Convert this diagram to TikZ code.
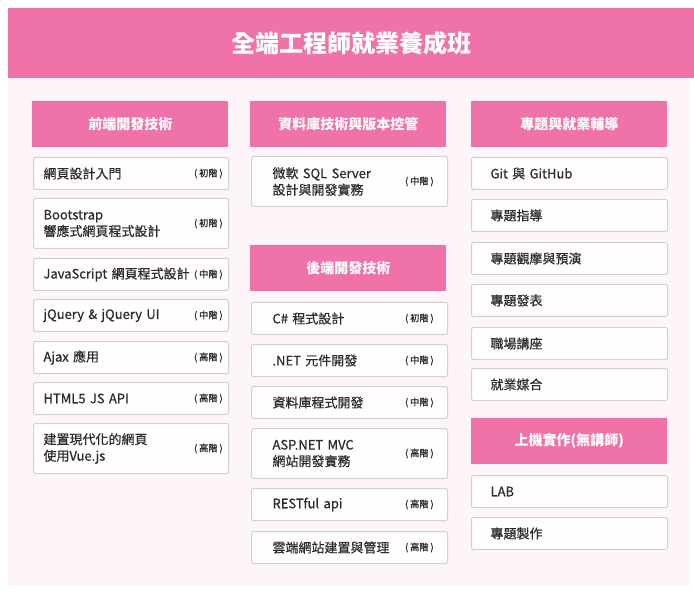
\documentclass[tikz,border=0pt]{standalone}
\usepackage{fontspec}
\setmainfont{Noto Sans CJK TC}
\newfontfamily\itemfont{Noto Sans CJK TC}[FakeBold=0.6]
\newfontfamily\levelfont{Noto Sans CJK TC}[FakeBold=1.2]
\definecolor{barpink}{HTML}{EF72A8}
\definecolor{pagepink}{HTML}{FDF5FA}
\definecolor{boxline}{HTML}{D2D0D1}
\definecolor{boxfill}{HTML}{FFFDFD}
\definecolor{inktext}{HTML}{2B2B2B}
\begin{document}
\begin{tikzpicture}[x=0.75pt, y=-0.75pt,
    titlebar/.style={fill=barpink, text=white, anchor=north west,
        minimum width=514.5pt, minimum height=52.5pt, inner sep=0pt,
        font=\fontsize{18}{20}\selectfont\bfseries},
    header/.style={fill=barpink, text=white, anchor=north west,
        minimum width=147pt, minimum height=34.5pt, inner sep=0pt,
        font=\fontsize{10.5}{12}\selectfont\bfseries},
    item/.style={draw=boxline, line width=0.75pt, fill=boxfill, rounded corners=1.5pt,
        anchor=north west, align=left, text=inktext, inner ysep=0pt,
        font=\itemfont\fontsize{9.75}{12.4}\selectfont},
    lcol/.style={item, inner xsep=7.5pt, text width=131.25pt},
    mcol/.style={item, inner xsep=15.75pt, text width=115.5pt},
    rcol/.style={item, inner xsep=14.25pt, text width=118.5pt},
    one/.style={minimum height=24pt},
    two/.style={minimum height=37.5pt},
    level/.style={anchor=east, inner sep=0pt, text=inktext,
        font=\levelfont\fontsize{6.9}{8}\selectfont}
]
    \useasboundingbox (0,0) rectangle (694,592);

    % 背景與標題
    \fill[pagepink] (8,78) rectangle (690,585);
    \node[titlebar] (title) at (8,8) {全端工程師就業養成班};

    % 左欄：前端開發技術
    \node[header] (front) at (32,101) {前端開發技術};
    \node[lcol, one] (f1) at (33,157) {網頁設計入門};
    \node[lcol, two] (f2) at (33,198) {Bootstrap\\響應式網頁程式設計};
    \node[lcol, one] (f3) at (33,258) {JavaScript 網頁程式設計};
    \node[lcol, one] (f4) at (33,299) {jQuery \& jQuery UI};
    \node[lcol, one] (f5) at (33,341) {Ajax 應用};
    \node[lcol, one] (f6) at (33,382) {HTML5 JS API};
    \node[lcol, two] (f7) at (33,423) {建置現代化的網頁\\使用Vue.js};
    \node[level] (f1l) at ([xshift=-4.5pt]f1.east) {( 初階 )};
    \node[level] (f2l) at ([xshift=-4.5pt]f2.east) {( 初階 )};
    \node[level] (f3l) at ([xshift=-4.5pt]f3.east) {( 中階 )};
    \node[level] (f4l) at ([xshift=-4.5pt]f4.east) {( 中階 )};
    \node[level] (f5l) at ([xshift=-4.5pt]f5.east) {( 高階 )};
    \node[level] (f6l) at ([xshift=-4.5pt]f6.east) {( 高階 )};
    \node[level] (f7l) at ([xshift=-4.5pt]f7.east) {( 高階 )};

    % 中欄：資料庫技術與版本控管、後端開發技術
    \node[header] (data) at (250,101) {資料庫技術與版本控管};
    \node[mcol, two] (d1) at (251,156) {微軟 SQL Server\\設計與開發實務};
    \node[level] (d1l) at ([xshift=-10.5pt]d1.east) {( 中階 )};

    \node[header] (back) at (250,245) {後端開發技術};
    \node[mcol, one] (b1) at (251,302) {C\# 程式設計};
    \node[mcol, one] (b2) at (251,344) {.NET 元件開發};
    \node[mcol, one] (b3) at (251,386) {資料庫程式開發};
    \node[mcol, two] (b4) at (251,428) {ASP.NET MVC\\網站開發實務};
    \node[mcol, one] (b5) at (251,488) {RESTful api};
    \node[mcol, one] (b6) at (251,531) {雲端網站建置與管理};
    \node[level] (b1l) at ([xshift=-10.5pt]b1.east) {( 初階 )};
    \node[level] (b2l) at ([xshift=-10.5pt]b2.east) {( 中階 )};
    \node[level] (b3l) at ([xshift=-10.5pt]b3.east) {( 中階 )};
    \node[level] (b4l) at ([xshift=-10.5pt]b4.east) {( 高階 )};
    \node[level] (b5l) at ([xshift=-10.5pt]b5.east) {( 高階 )};
    \node[level] (b6l) at ([xshift=-10.5pt]b6.east) {( 高階 )};

    % 右欄：專題與就業輔導、上機實作
    \node[header] (proj) at (471,101) {專題與就業輔導};
    \node[rcol, one] (p1) at (471,157) {Git 與 GitHub};
    \node[rcol, one] (p2) at (471,199) {專題指導};
    \node[rcol, one] (p3) at (471,242) {專題觀摩與預演};
    \node[rcol, one] (p4) at (471,284) {專題發表};
    \node[rcol, one] (p5) at (471,327) {職場講座};
    \node[rcol, one] (p6) at (471,368) {就業媒合};

    \node[header] (lab) at (471,418) {上機實作(無講師)};
    \node[rcol, one] (l1) at (471,475) {LAB};
    \node[rcol, one] (l2) at (471,517) {專題製作};
\end{tikzpicture}
\end{document}
